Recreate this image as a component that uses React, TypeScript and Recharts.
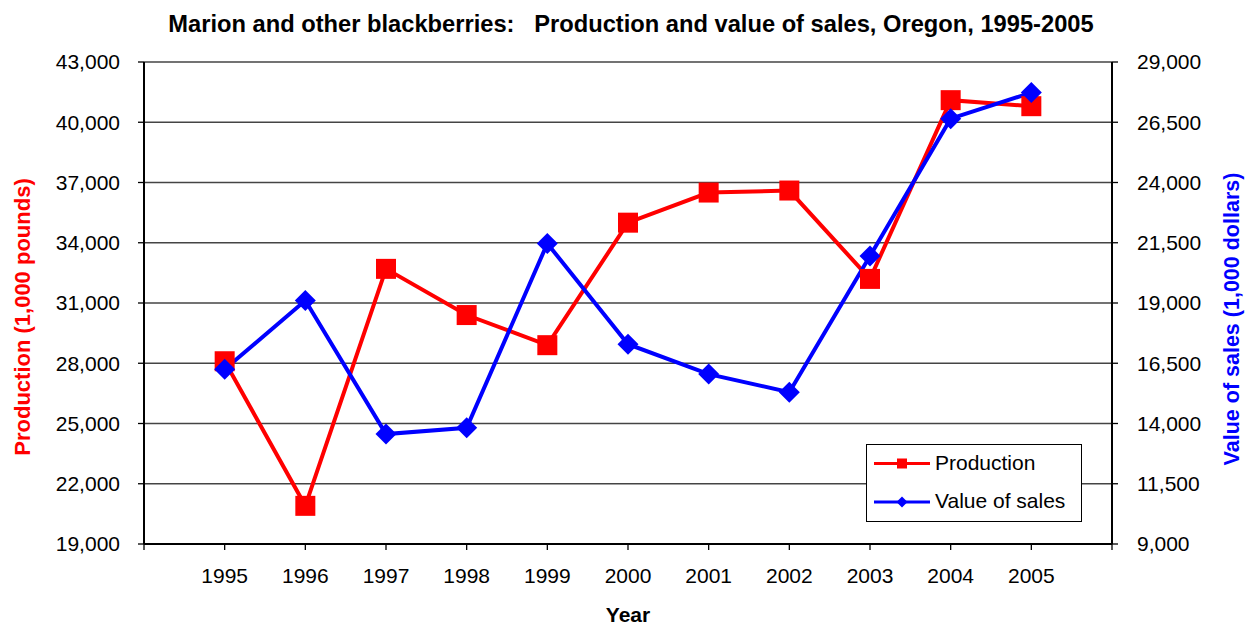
import React from 'react';
import { LineChart, Line, XAxis, YAxis, CartesianGrid, Legend } from 'recharts';

const years = [1995, 1996, 1997, 1998, 1999, 2000, 2001, 2002, 2003, 2004, 2005];
const production = [28100, 20900, 32700, 30400, 28900, 35000, 36500, 36600, 32200, 41100, 40800];
const salesValue = [16250, 19100, 13560, 13820, 21470, 17290, 16050, 15300, 20950, 26650, 27730];
const productionTicks = [19000, 22000, 25000, 28000, 31000, 34000, 37000, 40000, 43000];
const valueTicks = [9000, 11500, 14000, 16500, 19000, 21500, 24000, 26500, 29000];
const xTicks = [1994, ...years, 2006];

const data = years.map((year, i) => ({ year, production: production[i], value: salesValue[i] }));

const FONT = '"Liberation Sans", Arial, sans-serif';
const RED = '#ff0000';
const BLUE = '#0000ff';

const fmt = (v: number) => v.toLocaleString('en-US');

const SquareDot = (props: any) => {
  const { cx, cy } = props;
  if (cx == null || cy == null) return null;
  return <rect x={cx - 10} y={cy - 10} width={20} height={20} fill={RED} />;
};

const DiamondDot = (props: any) => {
  const { cx, cy } = props;
  if (cx == null || cy == null) return null;
  const r = 10.5;
  return <polygon points={`${cx},${cy - r} ${cx + r},${cy} ${cx},${cy + r} ${cx - r},${cy}`} fill={BLUE} />;
};

const LegendBox = () => (
  <div
    style={{
      width: 214,
      height: 76,
      border: '1px solid #000',
      background: '#fff',
      fontFamily: FONT,
      fontSize: 21,
      lineHeight: '24px',
      color: '#000',
      position: 'relative',
    }}
  >
    <svg width={60} height={76} style={{ position: 'absolute', left: 5, top: 0 }}>
      <line x1={2} y1={18.5} x2={58} y2={18.5} stroke={RED} strokeWidth={3} />
      <rect x={25} y={13.5} width={10} height={10} fill={RED} />
      <line x1={2} y1={57} x2={58} y2={57} stroke={BLUE} strokeWidth={3} />
      <polygon points="30,51.5 35.5,57 30,62.5 24.5,57" fill={BLUE} />
    </svg>
    <div style={{ position: 'absolute', left: 68, top: 6 }}>Production</div>
    <div style={{ position: 'absolute', left: 68, top: 44 }}>Value of sales</div>
  </div>
);

export default function App() {
  return (
    <div style={{ position: 'absolute', left: 0, top: 0, width: 1245, height: 627, background: '#fff' }}>
      <div
        style={{
          position: 'absolute',
          left: 0,
          top: 11,
          width: 1262,
          textAlign: 'center',
          fontFamily: FONT,
          fontWeight: 'bold',
          fontSize: 23.7,
          lineHeight: '27px',
          whiteSpace: 'pre',
          color: '#000',
        }}
      >
        {'Marion and other blackberries:   Production and value of sales, Oregon, 1995-2005'}
      </div>
      <LineChart
        width={1245}
        height={627}
        data={data}
        margin={{ top: 62, right: 0, bottom: 0, left: 0 }}
        style={{ position: 'absolute', left: 0, top: 0 }}
      >
        <CartesianGrid yAxisId="left" vertical={false} stroke="#444" strokeWidth={1.3} />
        <XAxis
          dataKey="year"
          type="number"
          domain={[1994, 2006]}
          ticks={xTicks}
          interval={0}
          tickFormatter={(v: number) => (years.includes(v) ? String(v) : '')}
          height={83}
          tickSize={6}
          tickMargin={18}
          axisLine={{ stroke: '#000', strokeWidth: 2 }}
          tickLine={{ stroke: '#000', strokeWidth: 1.3 }}
          tick={{ fill: '#000', fontSize: 21, fontFamily: FONT }}
          label={{
            content: () => (
              <text x={628} y={622} textAnchor="middle" fontFamily={FONT} fontSize={21} fontWeight="bold" fill="#000">
                Year
              </text>
            ),
          }}
        />
        <YAxis
          yAxisId="left"
          orientation="left"
          width={144}
          domain={[19000, 43000]}
          ticks={productionTicks}
          interval={0}
          tickFormatter={fmt}
          tickSize={6}
          tickMargin={18}
          axisLine={{ stroke: '#000', strokeWidth: 2 }}
          tickLine={{ stroke: '#000', strokeWidth: 1.3 }}
          tick={{ fill: '#000', fontSize: 21, fontFamily: FONT }}
          label={{
            content: () => (
              <text
                x={30}
                y={317}
                transform="rotate(-90 30 317)"
                textAnchor="middle"
                fontFamily={FONT}
                fontSize={22}
                fontWeight="bold"
                fill={RED}
              >
                Production (1,000 pounds)
              </text>
            ),
          }}
        />
        <YAxis
          yAxisId="right"
          orientation="right"
          width={133}
          domain={[9000, 29000]}
          ticks={valueTicks}
          interval={0}
          tickFormatter={fmt}
          tickSize={6}
          tickMargin={19}
          axisLine={{ stroke: '#000', strokeWidth: 2 }}
          tickLine={{ stroke: '#000', strokeWidth: 1.3 }}
          tick={{ fill: '#000', fontSize: 21, fontFamily: FONT }}
          label={{
            content: () => (
              <text
                x={1239}
                y={319}
                transform="rotate(-90 1239 319)"
                textAnchor="middle"
                fontFamily={FONT}
                fontSize={21.5}
                fontWeight="bold"
                fill={BLUE}
              >
                Value of sales (1,000 dollars)
              </text>
            ),
          }}
        />
        <Legend
          layout="vertical"
          align="center"
          verticalAlign="middle"
          content={() => <LegendBox />}
          wrapperStyle={{ position: 'absolute', left: 866, top: 444, width: 216, height: 78 }}
        />
        <Line
          yAxisId="left"
          dataKey="production"
          name="Production"
          type="linear"
          stroke={RED}
          strokeWidth={4}
          dot={<SquareDot />}
          activeDot={false}
          isAnimationActive={false}
        />
        <Line
          yAxisId="right"
          dataKey="value"
          name="Value of sales"
          type="linear"
          stroke={BLUE}
          strokeWidth={4}
          dot={<DiamondDot />}
          activeDot={false}
          isAnimationActive={false}
        />
      </LineChart>
    </div>
  );
}
